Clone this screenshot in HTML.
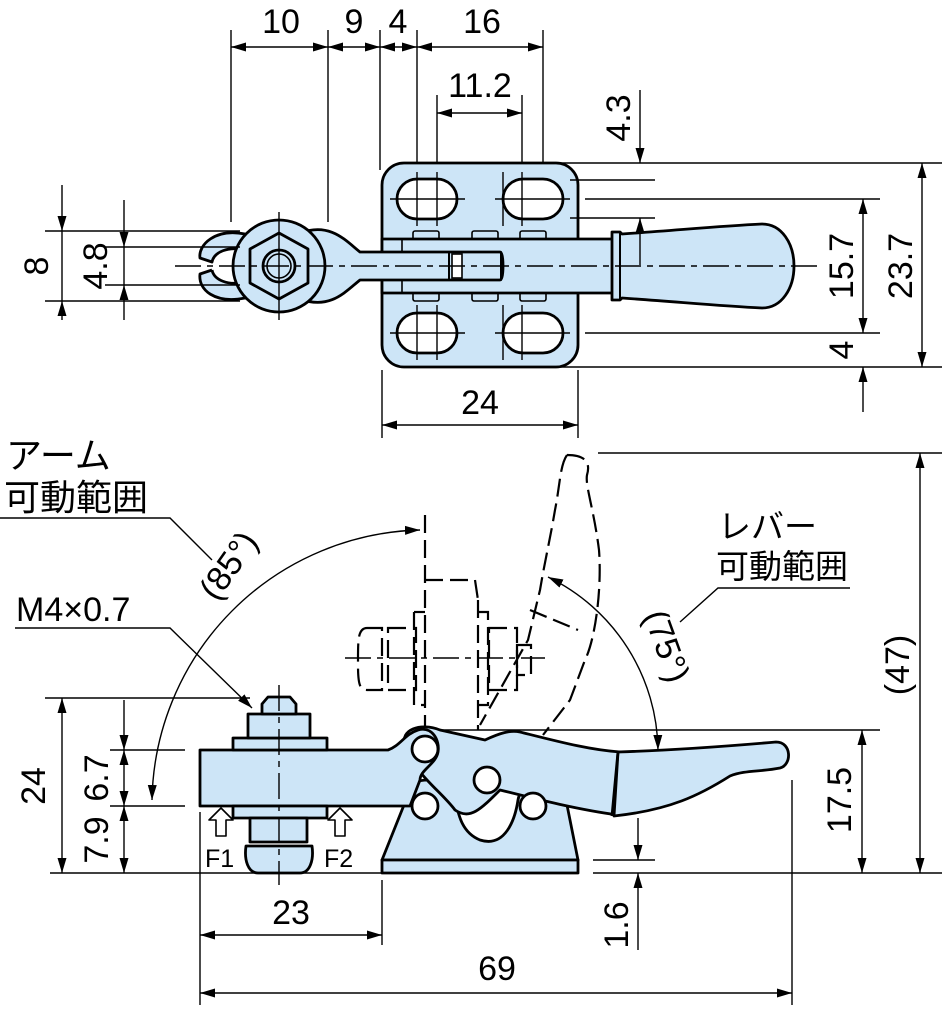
<!DOCTYPE html>
<html><head><meta charset="utf-8"><style>
html,body{margin:0;padding:0;background:#fff}
svg{display:block}
text{font-family:"Liberation Sans","Noto Sans CJK JP",sans-serif;fill:#000}
.o{fill:#cde5f7;stroke:#000;stroke-width:2.8;stroke-linejoin:round}
.n{fill:none;stroke:#000;stroke-width:2.8;stroke-linejoin:round}
.w{fill:#fff;stroke:#000;stroke-width:2.8}
.d{fill:none;stroke:#000;stroke-width:1.4}
.c{fill:none;stroke:#000;stroke-width:1.4;stroke-dasharray:26 6 6 6}
.h{fill:none;stroke:#000;stroke-width:2.2;stroke-dasharray:18 7}
.t{font-size:34px}
.j{font-size:36px}
</style></head><body>
<svg width="942" height="1009" viewBox="0 0 942 1009" xmlns="http://www.w3.org/2000/svg">
<defs>
<marker id="a" viewBox="0 0 10 10" refX="10" refY="5" markerWidth="15" markerHeight="15" markerUnits="userSpaceOnUse" orient="auto-start-reverse"><path d="M0,2 L10,5 L0,8 z" fill="#000"/></marker>
</defs>

<!-- ================= TOP VIEW ================= -->
<g class="d">
<line x1="231" y1="30" x2="231" y2="222"/>
<line x1="328" y1="30" x2="328" y2="222"/>
<line x1="380" y1="30" x2="380" y2="170"/>
<line x1="417" y1="30" x2="417" y2="230"/>
<line x1="543" y1="30" x2="543" y2="165"/>
<line x1="437" y1="95" x2="437" y2="230"/>
<line x1="522" y1="95" x2="522" y2="230"/>
<line x1="231" y1="47" x2="328" y2="47" marker-start="url(#a)" marker-end="url(#a)"/>
<line x1="328" y1="47" x2="380" y2="47" marker-start="url(#a)" marker-end="url(#a)"/>
<line x1="380" y1="47" x2="417" y2="47" marker-start="url(#a)" marker-end="url(#a)"/>
<line x1="417" y1="47" x2="543" y2="47" marker-start="url(#a)" marker-end="url(#a)"/>
<line x1="437" y1="113" x2="522" y2="113" marker-start="url(#a)" marker-end="url(#a)"/>
</g>
<text class="t" x="281" y="33" text-anchor="middle">10</text>
<text class="t" x="354" y="33" text-anchor="middle">9</text>
<text class="t" x="398" y="33" text-anchor="middle">4</text>
<text class="t" x="482" y="33" text-anchor="middle">16</text>
<text class="t" x="480" y="97" text-anchor="middle">11.2</text>

<rect class="o" x="382" y="163" width="196" height="204" rx="22"/>
<g class="o" style="stroke-width:1.6">
<rect x="413" y="231" width="26" height="10" rx="2"/><rect x="472" y="231" width="26" height="10" rx="2"/><rect x="520" y="231" width="26" height="10" rx="2"/>
<rect x="413" y="291" width="26" height="10" rx="2"/><rect x="472" y="291" width="26" height="10" rx="2"/><rect x="520" y="291" width="26" height="10" rx="2"/>
</g>
<rect class="w" x="397" y="179" width="60" height="40" rx="20"/>
<rect class="w" x="503" y="179" width="60" height="40" rx="20"/>
<rect class="w" x="397" y="313" width="60" height="40" rx="20"/>
<rect class="w" x="503" y="313" width="60" height="40" rx="20"/>
<g class="d">
<line x1="390" y1="199" x2="465" y2="199"/><line x1="495" y1="199" x2="570" y2="199"/>
<line x1="390" y1="333" x2="465" y2="333"/><line x1="495" y1="333" x2="570" y2="333"/>
<line x1="417" y1="172" x2="417" y2="226"/><line x1="437" y1="172" x2="437" y2="226"/>
<line x1="503" y1="172" x2="503" y2="226"/><line x1="522" y1="172" x2="522" y2="226"/>
<line x1="417" y1="305" x2="417" y2="360"/><line x1="437" y1="305" x2="437" y2="360"/>
<line x1="503" y1="305" x2="503" y2="360"/><line x1="522" y1="305" x2="522" y2="360"/>
</g>
<rect class="o" x="382" y="239" width="232" height="54"/>
<line class="n" x1="402" y1="239" x2="402" y2="293" style="stroke-width:1.6"/>
<path class="o" d="M300,233 C330,222 345,240 360,252 L500,252 C504,252 504,280 500,280 L360,280 C345,292 330,310 300,299 Z"/>
<rect class="n" x="449" y="252" width="52" height="28" style="stroke-width:2"/>
<rect x="452" y="254" width="10" height="24" fill="#fff" stroke="#000" stroke-width="1.6"/>
<path class="o" d="M245,234 C215,228 198,245 200,258 L212,262 C214,252 228,246 245,250 M212,270 L200,274 C198,290 215,304 245,298 L245,282 C228,286 214,280 212,270"/>
<circle class="o" cx="279" cy="266" r="46"/>
<polygon class="o" points="279,233 308,249 308,283 279,299 250,283 250,249"/>
<circle class="o" cx="279" cy="266" r="16"/>
<circle class="n" cx="279" cy="266" r="12" style="stroke-width:1.6"/>
<path class="o" d="M612,232 L620,232 L622,234 C680,230 720,226 762,224 C782,224 794,244 794,266 C794,288 782,308 762,308 C720,306 680,302 622,298 L620,300 L612,300 Z"/>
<line class="n" x1="620" y1="233" x2="620" y2="299" style="stroke-width:2"/>
<line class="c" x1="175" y1="266" x2="822" y2="266"/>
<line class="d" x1="279" y1="212" x2="279" y2="320"/>
<g class="d">
<line x1="45" y1="231" x2="240" y2="231"/><line x1="45" y1="301" x2="240" y2="301"/>
<line x1="105" y1="247" x2="240" y2="247"/><line x1="105" y1="285" x2="240" y2="285"/>
<line x1="62" y1="185" x2="62" y2="231" marker-end="url(#a)"/>
<line x1="62" y1="320" x2="62" y2="301" marker-end="url(#a)"/>
<line x1="62" y1="231" x2="62" y2="301"/>
<line x1="124" y1="200" x2="124" y2="247" marker-end="url(#a)"/>
<line x1="124" y1="320" x2="124" y2="285" marker-end="url(#a)"/>
<line x1="124" y1="247" x2="124" y2="285"/>
</g>
<text class="t" transform="translate(48,266) rotate(-90)" text-anchor="middle">8</text>
<text class="t" transform="translate(107,266) rotate(-90)" text-anchor="middle">4.8</text>
<g class="d">
<line x1="560" y1="163" x2="942" y2="163"/>
<line x1="570" y1="180" x2="655" y2="180"/>
<line x1="585" y1="199" x2="880" y2="199"/>
<line x1="570" y1="218" x2="655" y2="218"/>
<line x1="585" y1="333" x2="880" y2="333"/>
<line x1="560" y1="367" x2="942" y2="367"/>
<line x1="640" y1="90" x2="640" y2="163" marker-end="url(#a)"/>
<line x1="640" y1="265" x2="640" y2="218" marker-end="url(#a)"/>
<line x1="863" y1="199" x2="863" y2="333" marker-start="url(#a)" marker-end="url(#a)"/>
<line x1="863" y1="367" x2="863" y2="412" marker-start="url(#a)"/>
<line x1="922" y1="163" x2="922" y2="367" marker-start="url(#a)" marker-end="url(#a)"/>
<line x1="578" y1="370" x2="578" y2="438"/>
<line x1="382" y1="370" x2="382" y2="438"/>
<line x1="382" y1="425" x2="578" y2="425" marker-start="url(#a)" marker-end="url(#a)"/>
</g>
<text class="t" transform="translate(630,118) rotate(-90)" text-anchor="middle">4.3</text>
<text class="t" transform="translate(853,266) rotate(-90)" text-anchor="middle">15.7</text>
<text class="t" transform="translate(912,266) rotate(-90)" text-anchor="middle">23.7</text>
<text class="t" transform="translate(853,350) rotate(-90)" text-anchor="middle">4</text>
<text class="t" x="480" y="414" text-anchor="middle">24</text>

<!-- ================= SIDE VIEW ================= -->
<text class="j" x="6" y="468">アーム</text>
<text class="j" x="4" y="510">可動範囲</text>
<text class="t" x="718" y="538" style="font-size:33px">レバー</text>
<text class="t" x="716" y="578" style="font-size:33px">可動範囲</text>
<text class="t" x="16" y="621">M4×0.7</text>
<g class="d">
<polyline points="0,518 170,518 212,560"/>
<polyline points="850,588 718,588 680,622"/>
<polyline points="15,628 170,628 252,708" marker-end="url(#a)"/>
</g>

<g class="h">
<line x1="425" y1="515" x2="425" y2="728"/>
<polyline points="425,580 475,580 478,600"/>
<line x1="478" y1="600" x2="478" y2="730"/>
<polyline points="414,612 425,612"/><polyline points="414,612 414,705 425,705"/>
<rect x="388" y="628" width="28" height="62"/>
<path d="M367,628 L382,628 L382,690 L367,690 C358,690 358,680 358,660 C358,640 358,628 367,628"/>
<polyline points="478,612 488,612 488,705 478,705"/>
<rect x="489" y="628" width="28" height="62"/>
<rect x="517" y="645" width="14" height="30"/>
<path d="M567,455 C588,455 590,465 587,475 C585,485 594,510 599,550 C602,590 595,640 585,660 L570,700 L543,735"/>
<path d="M567,455 C560,465 560,485 555,510 C550,540 545,560 540,590 L528,640 L480,725"/>
<line x1="530" y1="610" x2="578" y2="630"/>
</g>
<line class="c" x1="345" y1="658" x2="545" y2="658"/>

<path class="d" d="M152,800 A275 275 0 0 1 420,530" marker-start="url(#a)" marker-end="url(#a)"/>
<path class="d" d="M548,577 A195 195 0 0 1 658,750" marker-start="url(#a)" marker-end="url(#a)"/>
<text class="t" transform="translate(238,572) rotate(-55)" text-anchor="middle">(85°)</text>
<text class="t" transform="translate(656,650) rotate(70)" text-anchor="middle">(75°)</text>

<path class="o" d="M382,860 L410,790 C412,782 420,780 428,780 L450,782 C458,800 455,830 480,840 C505,848 515,820 518,800 C520,788 530,782 545,784 C558,786 565,792 566,800 L578,860 Z"/>
<rect class="o" x="382" y="860" width="196" height="13"/>
<path class="o" d="M405,745 C400,730 420,722 440,730 L485,740 C500,733 510,730 520,732 C560,742 590,750 620,752 L618,815 C580,810 540,800 500,790 C480,810 470,820 455,810 C440,790 415,775 405,745 Z"/>
<path class="o" d="M618,752 C680,750 730,746 776,742 C792,742 792,765 780,768 C760,772 745,770 730,776 C700,795 670,810 614,816 Z"/>
<line class="n" x1="618" y1="752" x2="612" y2="816"/>
<path class="o" d="M200,750 L388,750 C400,746 405,734 418,730 C432,726 440,740 438,752 C436,764 420,770 420,780 L410,806 L200,806 Z"/>
<circle class="w" cx="425" cy="749" r="13"/>
<circle class="w" cx="487" cy="780" r="13"/>
<circle class="w" cx="425" cy="806" r="13"/>
<circle class="w" cx="533" cy="806" r="13"/>
<rect class="o" x="233" y="738" width="94" height="12"/>
<rect class="o" x="248" y="714" width="62" height="24"/>
<path class="o" d="M262,714 L262,704 L268,697 L290,697 L296,704 L296,714 Z"/>
<rect class="o" x="233" y="806" width="94" height="12"/>
<rect class="o" x="250" y="818" width="57" height="24"/>
<path class="o" d="M246,846 L312,846 C314,860 310,873 300,873 L258,873 C248,873 244,860 246,846 Z"/>
<line class="c" x1="279" y1="685" x2="279" y2="885"/>
<g class="n" style="stroke-width:1.6;fill:#fff">
<path d="M221,808 L233,820 L226,820 L226,836 L216,836 L216,820 L209,820 Z"/>
<path d="M340,808 L352,820 L345,820 L345,836 L335,836 L335,820 L328,820 Z"/>
</g>
<text x="205" y="867" style="font-size:25px">F1</text>
<text x="324" y="867" style="font-size:25px">F2</text>

<g class="d">
<line x1="50" y1="873" x2="560" y2="873"/>
<line x1="593" y1="873" x2="942" y2="873"/>
<line x1="593" y1="860" x2="655" y2="860"/>
<line x1="45" y1="698" x2="250" y2="698"/>
<line x1="110" y1="750" x2="185" y2="750"/>
<line x1="110" y1="806" x2="185" y2="806"/>
<line x1="440" y1="730" x2="880" y2="730"/>
<line x1="598" y1="453" x2="942" y2="453"/>
<line x1="62" y1="698" x2="62" y2="873" marker-start="url(#a)" marker-end="url(#a)"/>
<line x1="124" y1="700" x2="124" y2="750" marker-end="url(#a)"/>
<line x1="124" y1="750" x2="124" y2="806" marker-start="url(#a)" marker-end="url(#a)"/>
<line x1="124" y1="806" x2="124" y2="873" marker-start="url(#a)" marker-end="url(#a)"/>
<line x1="862" y1="730" x2="862" y2="873" marker-start="url(#a)" marker-end="url(#a)"/>
<line x1="920" y1="453" x2="920" y2="873" marker-start="url(#a)" marker-end="url(#a)"/>
<line x1="638" y1="818" x2="638" y2="860" marker-end="url(#a)"/>
<line x1="638" y1="950" x2="638" y2="873" marker-end="url(#a)"/>
<line x1="200" y1="812" x2="200" y2="1005"/>
<line x1="382" y1="880" x2="382" y2="945"/>
<line x1="792" y1="780" x2="792" y2="1005"/>
<line x1="200" y1="935" x2="382" y2="935" marker-start="url(#a)" marker-end="url(#a)"/>
<line x1="200" y1="993" x2="792" y2="993" marker-start="url(#a)" marker-end="url(#a)"/>
</g>
<text class="t" transform="translate(45,786) rotate(-90)" text-anchor="middle">24</text>
<text class="t" transform="translate(108,778) rotate(-90)" text-anchor="middle">6.7</text>
<text class="t" transform="translate(108,840) rotate(-90)" text-anchor="middle">7.9</text>
<text class="t" transform="translate(851,800) rotate(-90)" text-anchor="middle">17.5</text>
<text class="t" transform="translate(909,665) rotate(-90)" text-anchor="middle">(47)</text>
<text class="t" transform="translate(628,925) rotate(-90)" text-anchor="middle">1.6</text>
<text class="t" x="291" y="924" text-anchor="middle">23</text>
<text class="t" x="497" y="980" text-anchor="middle">69</text>
</svg>
</body></html>
